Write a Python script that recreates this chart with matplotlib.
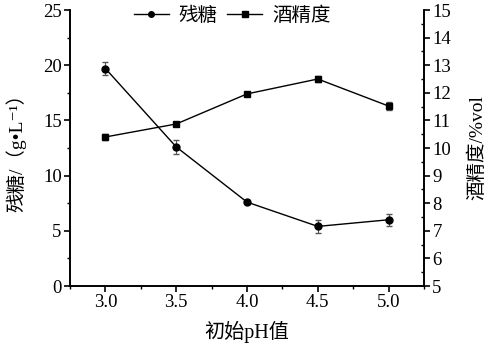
import matplotlib
matplotlib.use("Agg")
import matplotlib.pyplot as plt
from matplotlib.lines import Line2D
from matplotlib.ticker import MultipleLocator

plt.rcParams['font.family'] = ['Liberation Serif', 'Noto Sans CJK SC', 'DejaVu Sans']

# data
ph = [3.0, 3.5, 4.0, 4.5, 5.0]
sugar = [19.7, 12.6, 7.6, 5.4, 6.0]
sugar_err = [0.6, 0.6, 0.15, 0.6, 0.55]
alcohol = [10.4, 10.87, 11.96, 12.5, 11.52]
alcohol_err = [0.1, 0.06, 0.08, 0.1, 0.15]

fig = plt.figure(figsize=(4.9, 3.56), dpi=100)
ax = fig.add_axes([0.1429, 0.1966, 0.7224, 0.7753])
ax2 = ax.twinx()

ax.errorbar(ph, sugar, yerr=sugar_err, color="black", marker="o",
            markersize=5, linewidth=1, capsize=2, elinewidth=0.8,
            ecolor="#555555")
ax2.errorbar(ph, alcohol, yerr=alcohol_err, color="black", marker="s",
             markersize=5, linewidth=1, capsize=2, elinewidth=0.8,
             ecolor="#555555")

ax.set_xlim(2.75, 5.25)
ax.set_ylim(0, 25)
ax2.set_ylim(5, 15)
ax.set_xticks(ph)
ax.set_xticklabels([f"{v:.1f}" for v in ph])
ax.xaxis.set_minor_locator(MultipleLocator(0.25))
ax.yaxis.set_major_locator(MultipleLocator(5))
ax.yaxis.set_minor_locator(MultipleLocator(2.5))
ax2.yaxis.set_major_locator(MultipleLocator(1))
ax2.yaxis.set_minor_locator(MultipleLocator(0.5))

for a in (ax, ax2):
    a.spines["top"].set_visible(False)
    for s in a.spines.values():
        s.set_linewidth(1.2)
ax.tick_params(which="major", direction="out", length=4, width=1.2,
               labelsize=13.5, pad=2)
ax.tick_params(which="minor", direction="out", length=2.5, width=1)
ax2.tick_params(which="major", direction="out", length=4, width=1.2,
                labelsize=13.5, pad=2)
ax2.tick_params(which="minor", direction="in", length=2.5, width=1)

ax.set_xlabel("初始pH值", fontsize=14.5, labelpad=7)
ax.set_ylabel("残糖/（g•L⁻¹）", fontsize=14, labelpad=12)
ax2.set_ylabel("酒精度/%vol", fontsize=14, rotation=90, labelpad=12)

handles = [
    Line2D([], [], color="black", marker="o", markersize=4, linewidth=1),
    Line2D([], [], color="black", marker="s", markersize=4, linewidth=1),
]
fig.legend(handles, ["残糖", "酒精度"], loc="upper center",
           bbox_to_anchor=(0.474, 1.03), ncol=2, frameon=False,
           fontsize=14, handlelength=1.8, columnspacing=0.5,
           handletextpad=0.5)

fig.savefig("out.png", dpi=100)
